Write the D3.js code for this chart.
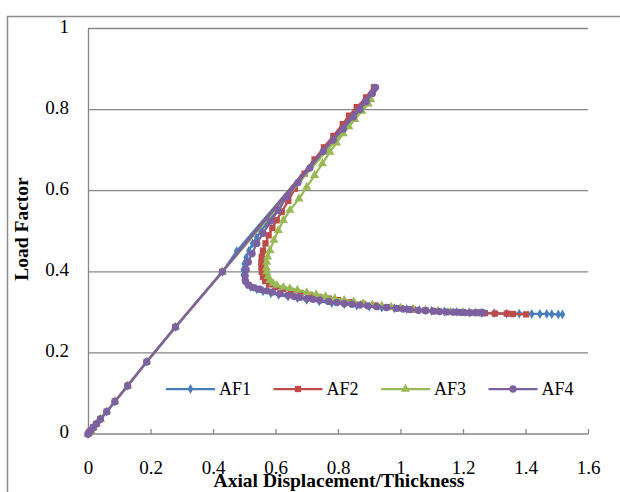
<!DOCTYPE html>
<html>
<head>
<meta charset="utf-8">
<script src="https://cdn.jsdelivr.net/npm/d3@7"></script>
<style>
  html, body { margin: 0; padding: 0; background: #fff; }
  svg { display: block; }
</style>
</head>
<body>
<svg id="chart" width="620" height="492"></svg>
<script>
// ---------------- DATA ----------------
const seriesNames = ["AF1", "AF2", "AF3", "AF4"];
const xTicks = [0, 0.2, 0.4, 0.6, 0.8, 1, 1.2, 1.4, 1.6];
const xTickLabels = ["0", "0.2", "0.4", "0.6", "0.8", "1", "1.2", "1.4", "1.6"];
const yTicks = [0, 0.2, 0.4, 0.6, 0.8, 1];
const yTickLabels = ["0", "0.2", "0.4", "0.6", "0.8", "1"];

// shared elastic loading path
const loading = [[0,0],[0.004,0.004],[0.009,0.009],[0.017,0.016],[0.027,0.025],[0.04,0.037],
  [0.06,0.055],[0.086,0.08],[0.127,0.119],[0.188,0.178],[0.28,0.264],[0.43,0.40]];

const af1 = [[0.476,0.451],[0.92,0.852],[0.90,0.833],[0.87,0.805],[0.84,0.777],[0.80,0.741],[0.76,0.704],
  [0.72,0.667],[0.68,0.63],[0.645,0.595],[0.615,0.565],[0.59,0.54],[0.57,0.518],[0.553,0.5],[0.54,0.485],
  [0.527,0.47],[0.515,0.452],[0.506,0.435],[0.5,0.42],[0.497,0.405],[0.497,0.392],[0.50,0.38],[0.507,0.37],
  [0.52,0.363],[0.54,0.357],[0.56,0.352],[0.585,0.347],[0.61,0.343],[0.64,0.339],[0.67,0.335],[0.70,0.331],
  [0.74,0.327],[0.78,0.323],[0.82,0.32],[0.86,0.317],[0.90,0.314],[0.94,0.312],[0.98,0.31],[1.02,0.308],
  [1.06,0.306],[1.10,0.304],[1.14,0.302],[1.18,0.301],[1.22,0.3],[1.26,0.299],[1.30,0.298],[1.34,0.297],
  [1.38,0.297],[1.42,0.296],[1.446,0.296],[1.468,0.296],[1.484,0.2955],[1.505,0.295],[1.518,0.295]];

const af2 = [[0.915,0.855],[0.89,0.83],[0.86,0.806],[0.835,0.785],[0.815,0.764],[0.785,0.735],[0.755,0.707],
  [0.725,0.677],[0.693,0.642],[0.662,0.605],[0.641,0.575],[0.62,0.548],[0.604,0.527],[0.59,0.508],[0.578,0.49],
  [0.568,0.47],[0.56,0.452],[0.556,0.437],[0.555,0.424],[0.555,0.412],[0.556,0.4],[0.56,0.387],[0.567,0.377],
  [0.58,0.369],[0.6,0.362],[0.625,0.357],[0.65,0.353],[0.68,0.348],[0.71,0.343],[0.74,0.338],[0.77,0.334],
  [0.8,0.33],[0.84,0.325],[0.88,0.321],[0.92,0.317],[0.96,0.313],[1.0,0.31],[1.04,0.307],[1.08,0.305],
  [1.12,0.303],[1.16,0.301],[1.2,0.3],[1.24,0.299],[1.27,0.298],[1.302,0.297],[1.34,0.297],[1.36,0.296],
  [1.402,0.295]];

const af3 = [[0.905,0.825],[0.897,0.814],[0.876,0.796],[0.854,0.776],[0.835,0.758],[0.817,0.741],[0.795,0.718],
  [0.774,0.695],[0.75,0.667],[0.725,0.638],[0.7,0.609],[0.675,0.58],[0.646,0.552],[0.625,0.527],[0.609,0.502],
  [0.595,0.478],[0.582,0.453],[0.575,0.437],[0.572,0.424],[0.571,0.41],[0.572,0.4],[0.576,0.389],[0.582,0.379],
  [0.592,0.372],[0.604,0.367],[0.625,0.362],[0.646,0.359],[0.67,0.355],[0.7,0.349],[0.73,0.344],[0.76,0.339],
  [0.79,0.334],[0.82,0.33],[0.85,0.326],[0.88,0.322],[0.91,0.319],[0.94,0.316],[0.97,0.313],[1.0,0.311],
  [1.04,0.308],[1.08,0.305],[1.12,0.303],[1.16,0.301],[1.2,0.3],[1.24,0.299]];

const af4 = [[0.92,0.855],[0.91,0.84],[0.89,0.82],[0.87,0.8],[0.849,0.782],[0.817,0.752],[0.785,0.725],
  [0.753,0.697],[0.71,0.656],[0.672,0.62],[0.636,0.585],[0.609,0.552],[0.585,0.525],[0.56,0.495],[0.54,0.47],
  [0.525,0.445],[0.513,0.424],[0.506,0.405],[0.503,0.39],[0.504,0.377],[0.515,0.367],[0.53,0.361],[0.55,0.357],
  [0.572,0.353],[0.59,0.35],[0.614,0.346],[0.64,0.342],[0.66,0.339],[0.678,0.337],[0.7,0.334],[0.72,0.332],
  [0.742,0.33],[0.77,0.327],[0.796,0.324],[0.82,0.322],[0.845,0.32],[0.87,0.318],[0.895,0.316],[0.924,0.314],
  [0.955,0.312],[0.988,0.31],[1.009,0.308],[1.03,0.307],[1.057,0.305],[1.08,0.304],[1.105,0.303],[1.125,0.302],
  [1.148,0.301],[1.17,0.3005],[1.19,0.3],[1.205,0.2995],[1.222,0.299],[1.24,0.299],[1.254,0.299],[1.265,0.299]];

const seriesData = [loading.concat(af1), loading.concat(af2), loading.concat(af3), loading.concat(af4)];

// ---------------- STYLE ----------------
const colors = ["#4A7EBB", "#BE4B48", "#98B954", "#7D60A0"];
const symbols = [d3.symbolDiamond, d3.symbolSquare, d3.symbolTriangle, d3.symbolCircle];
const symSizes = [28, 40, 36, 42];
const font = "'Liberation Serif', 'Times New Roman', serif";
const gridColor = "#868686";

(function draw() {
  const svg = d3.select("#chart");
  const pLeft = 88, pRight = 588, pTop = 28.5, pBottom = 434;

  const x = d3.scaleLinear().domain([0, 1.6]).range([pLeft, pRight]);
  const y = d3.scaleLinear().domain([0, 1]).range([pBottom, pTop]);

  // outer chart border
  svg.append("rect").attr("x", 7.5).attr("y", 16.5).attr("width", 700).attr("height", 600)
    .attr("fill", "none").attr("stroke", "#8c8c8c").attr("stroke-width", 1.5);

  // gridlines
  svg.append("g").selectAll("line").data(yTicks.filter(d => d > 0)).join("line")
    .attr("x1", pLeft).attr("x2", pRight)
    .attr("y1", d => y(d)).attr("y2", d => y(d))
    .attr("stroke", gridColor).attr("stroke-width", 1.3);

  // y axis
  const yAxis = d3.axisLeft(y).tickValues(yTicks).tickFormat((d, i) => yTickLabels[i]).tickSize(0).tickPadding(19);
  const gy = svg.append("g").attr("transform", `translate(${pLeft},0)`).call(yAxis);
  gy.select(".domain").attr("stroke", gridColor).attr("stroke-width", 1.3);
  gy.selectAll("text").attr("font-family", font).attr("font-size", "19px").attr("fill", "#000")
    .attr("dy", "0.2em");

  // x axis
  const xAxis = d3.axisBottom(x).tickValues(xTicks).tickFormat((d, i) => xTickLabels[i]).tickSize(-5).tickPadding(27);
  const gx = svg.append("g").attr("transform", `translate(0,${pBottom})`).call(xAxis);
  gx.select(".domain").attr("stroke", gridColor).attr("stroke-width", 1.3).attr("d", `M${pLeft},0H${pRight}`);
  gx.selectAll(".tick line").attr("stroke", gridColor).attr("stroke-width", 1.3);
  gx.selectAll("text").attr("font-family", font).attr("font-size", "19px").attr("fill", "#000");

  // series
  const line = d3.line().x(d => x(d[0])).y(d => y(d[1]));
  seriesData.forEach((data, i) => {
    const g = svg.append("g");
    g.append("path").datum(data).attr("d", line)
      .attr("fill", "none").attr("stroke", colors[i]).attr("stroke-width", 2.25)
      .attr("stroke-linejoin", "round");
    g.selectAll("path.m").data(data).join("path").attr("class", "m")
      .attr("transform", d => `translate(${x(d[0])},${y(d[1])})`)
      .attr("d", d3.symbol().type(symbols[i]).size(symSizes[i]))
      .attr("fill", colors[i]);
  });

  // legend
  const legY = 389;
  const legX0 = 166, legStep = 107.5, legLen = 49;
  seriesNames.forEach((name, i) => {
    const lx = legX0 + i * legStep;
    const g = svg.append("g");
    g.append("line").attr("x1", lx).attr("x2", lx + legLen).attr("y1", legY).attr("y2", legY)
      .attr("stroke", colors[i]).attr("stroke-width", 2.25);
    g.append("path").attr("transform", `translate(${lx + legLen / 2},${legY})`)
      .attr("d", d3.symbol().type(symbols[i]).size(symSizes[i])).attr("fill", colors[i]);
    g.append("text").attr("x", lx + legLen + 4).attr("y", legY).attr("dy", "0.35em")
      .attr("font-family", font).attr("font-size", "18px").attr("fill", "#000").text(name);
  });

  // axis titles
  svg.append("text").attr("x", 339).attr("y", 487).attr("text-anchor", "middle")
    .attr("font-family", font).attr("font-size", "19.5px").attr("font-weight", "bold")
    .text("Axial Displacement/Thickness");
  svg.append("text").attr("transform", "translate(28,229) rotate(-90)").attr("text-anchor", "middle")
    .attr("font-family", font).attr("font-size", "19.5px").attr("font-weight", "bold")
    .text("Load Factor");
})();
</script>
</body>
</html>
